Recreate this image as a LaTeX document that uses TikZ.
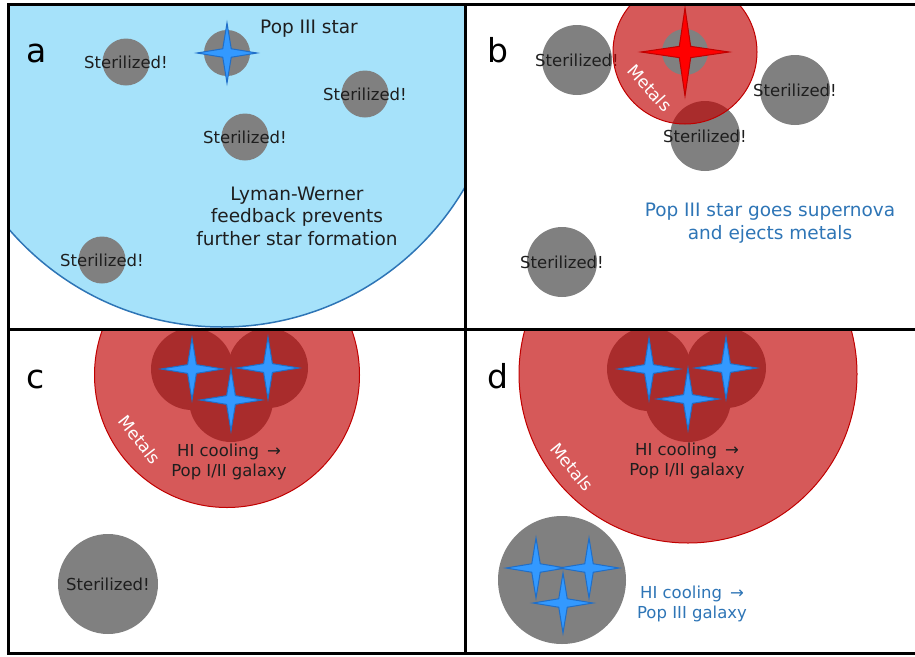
\documentclass[tikz,border=0pt]{standalone}
\usepackage{fontspec}
\setmainfont{DejaVu Sans}
\usetikzlibrary{shapes.geometric}
\definecolor{lwsky}{RGB}{166,226,250}
\definecolor{lwline}{RGB}{46,117,182}
\definecolor{haze}{RGB}{128,128,128}
\definecolor{metalred}{RGB}{192,0,0}
\definecolor{sparkblue}{RGB}{51,153,255}
\definecolor{sparkedge}{RGB}{31,110,200}
\definecolor{ink}{RGB}{30,30,30}
\tikzset{halo/.style={circle,fill=haze,inner sep=0pt,minimum size=#1},
         tag/.style={font=\fontsize{16.5}{20}\selectfont,align=center,inner sep=0pt,text=ink},
         head/.style={font=\fontsize{18.5}{22.5}\selectfont,align=center,inner sep=0pt,text=ink},
         bluetag/.style={tag,text=lwline},
         panel/.style={font=\fontsize{33}{33}\selectfont,anchor=base west,inner sep=0pt},
         spark/.style={star,star points=4,star point ratio=5,fill=sparkblue,draw=sparkedge,
                       line width=1pt,inner sep=0pt,minimum size=#1},
         metals/.style={circle,fill=metalred,fill opacity=.65,draw=metalred,line width=1pt,
                        inner sep=0pt,minimum size=#1},
         metaltext/.style={text=white,font=\fontsize{17}{17}\selectfont,inner sep=0pt},
         frame/.style={line width=3pt},
         }

\begin{document}
\begin{tikzpicture}[x=1pt,y=-1pt]
\useasboundingbox (0,0) rectangle (915,656);
% a
\begin{scope}
\clip (8,4) rectangle (465,329);
\node[circle,fill=lwsky,draw=lwline,line width=1.5pt,minimum size=562] (lw) at (222,46) {};
\end{scope}
\node[halo=47,label={[tag]center:Sterilized!}] (a1) at (126,62) {};
\node[halo=47,label={[tag]center:Sterilized!}] (a2) at (365,94) {};
\node[halo=47,label={[tag]center:Sterilized!}] (a3) at (245,137) {};
\node[halo=47,label={[tag]center:Sterilized!}] (a4) at (102,260) {};
\node[halo=46] (popc) at (227,53) {};
\node[spark=60] (pop) at (227,53) {};
\node[head] (poplabel) at (309,29) {Pop III star};
\node[head] (lwtext) at (297,216) {Lyman-Werner\\feedback prevents\\further star formation};
\node[panel] (la) at (26,62) {a};
% b
\node[halo=70,label={[tag]center:Sterilized!}] (b1) at (577,60) {};
\node[halo=70,label={[tag]center:Sterilized!}] (b2) at (795,90) {};
\node[halo=70,label={[tag]center:Sterilized!}] (b3) at (705,136) {};
\node[halo=70,label={[tag]center:Sterilized!}] (b4) at (562,262) {};
\begin{scope}
\clip (465,4) rectangle (915,329);
\node[metals=144] (snr) at (685,52) {};
\end{scope}
\node[halo=46] (snc) at (685,52) {};
\node[spark=88,star point ratio=5.5,fill=red,draw=metalred] (sn) at (685,52) {};
\node[metaltext,rotate=-48] (mb) at (650,88) {Metals};
\node[head,text=lwline] (sntext) at (770,223) {Pop III star goes supernova\\and ejects metals};
\node[panel] (lb) at (487,62) {b};
% c
\begin{scope}
\clip (8,329) rectangle (465,653);
\node[halo=82] (cg1) at (192,369) {};
\node[halo=80] (cg2) at (268,368) {};
\node[halo=84] (cg3) at (231,400) {};
\node[metals=265] (cr) at (227,375) {};
\end{scope}
\node[spark=62] (cs1) at (192,369) {};
\node[spark=62] (cs2) at (268,368) {};
\node[spark=62] (cs3) at (231,400) {};
\node[metaltext,rotate=-52] (mc) at (140,440) {Metals};
\node[tag] (ctext) at (229,462) {HI cooling \,→\\Pop I/II galaxy};
\node[halo=100,label={[tag]center:Sterilized!}] (c1) at (108,584) {};
\node[panel] (lc) at (26,388) {c};
% d
\begin{scope}
\clip (465,329) rectangle (915,653);
\node[halo=84] (dg1) at (649,369) {};
\node[halo=80] (dg2) at (726,368) {};
\node[halo=86] (dg3) at (688,399) {};
\node[metals=338] (dr) at (688,374) {};
\end{scope}
\node[spark=62] (ds1) at (649,369) {};
\node[spark=62] (ds2) at (726,368) {};
\node[spark=62] (ds3) at (688,399) {};
\node[metaltext,rotate=-51] (md) at (572,467) {Metals};
\node[tag] (dtext) at (687,461) {HI cooling \,→\\Pop I/II galaxy};
\node[halo=128] (dg) at (562,580) {};
\node[spark=60] (dp1) at (536,568) {};
\node[spark=60] (dp2) at (589,568) {};
\node[spark=60] (dp3) at (563,603) {};
\node[bluetag] (dtext2) at (692,604) {HI cooling \,→\\Pop III galaxy};
\node[panel] (ld) at (487,388) {d};
% frame
\draw[frame] (915,4) -- (8,4) -- (8,653) -- (915,653);
\draw[frame] (465,4) -- (465,653);
\draw[frame] (8,329) -- (915,329);
\end{tikzpicture}
\end{document}
